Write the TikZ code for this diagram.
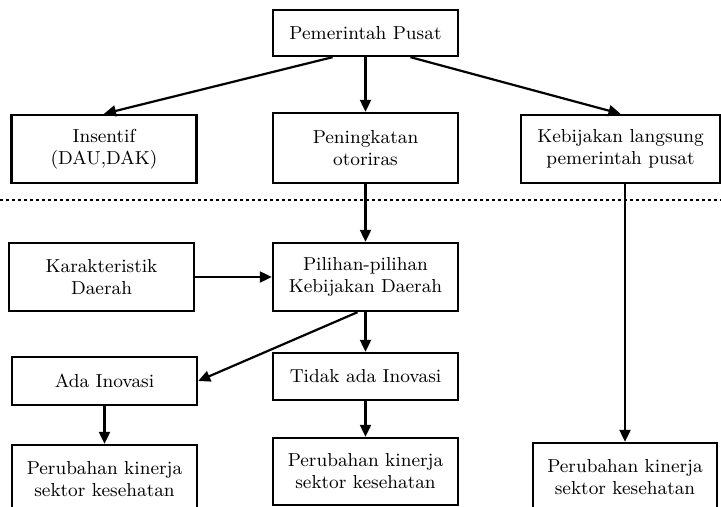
\documentclass[tikz,border=0pt]{standalone}
\usetikzlibrary{calc,arrows.meta}
\tikzset{
  kotak/.style={draw, line width=1.2pt, minimum width=92.5pt, minimum height=34pt, inner sep=1pt, align=center, font=\fontsize{9.4}{11}\selectfont},
  panah/.style={line width=1.1pt, -{Triangle[length=6pt,width=5.5pt]}},
}

\begin{document}
\begin{tikzpicture}[x=0.5pt, y=-0.5pt]
		\useasboundingbox (0, 0) rectangle (721, 507);
		\clip (0, 0) rectangle (721, 507);
		
		%%%%% PUSAT %%%%%
		
		\node[kotak, minimum height=23pt] (pusat) at (365.5, 33) {Pemerintah Pusat};
		
		\node[kotak] (insentif) at (104, 149) {Insentif\\(DAU,DAK)};
		\node[kotak, minimum height=35pt] (otoritas) at (365.5, 148) {Peningkatan\\otoriras};
		\node[kotak, minimum width=99.5pt] (langsung) at (620.5, 149) {Kebijakan langsung\\pemerintah pusat};
		
		\draw[panah] ($(pusat.south)+(-33, 0)$) -- (insentif.north);
		\draw[panah] (pusat.south) -- (otoritas.north);
		\draw[panah] ($(pusat.south)+(45, 0)$) -- (langsung.north);
		
		\draw[line width=1.4pt, dash pattern=on 1.5pt off 1.5pt] (0, 200) -- (721, 200);
		
		%%%%% DAERAH %%%%%
		
		\node[kotak] (karakter) at (101.5, 277) {Karakteristik\\Daerah};
		\node[kotak] (pilihan) at (365.5, 277) {Pilihan-pilihan\\Kebijakan Daerah};
		
		\node[kotak, minimum height=24pt] (ada) at (104.5, 381) {Ada Inovasi};
		\node[kotak, minimum height=23.5pt] (tidak) at (365.5, 376.5) {Tidak ada Inovasi};
		
		\node[kotak] (hasilA) at (104.5, 479) {Perubahan kinerja\\sektor kesehatan};
		\node[kotak, minimum height=33.5pt] (hasilB) at (365.5, 471.5) {Perubahan kinerja\\sektor kesehatan};
		\node[kotak, minimum width=92pt] (hasilC) at (625, 477) {Perubahan kinerja\\sektor kesehatan};
		
		\draw[panah] (otoritas.south) -- (pilihan.north);
		\draw[panah] (karakter.east) -- (pilihan.west);
		\draw[panah] ($(pilihan.south)+(-8, 0)$) -- (ada.east);
		\draw[panah] (pilihan.south) -- (tidak.north);
		\draw[panah] (ada.south) -- (hasilA.north);
		\draw[panah] (tidak.south) -- (hasilB.north);
		\draw[panah] (hasilC.north |- langsung.south) -- (hasilC.north);
		
		%%%%% END %%%%%
	\end{tikzpicture}
\end{document}
